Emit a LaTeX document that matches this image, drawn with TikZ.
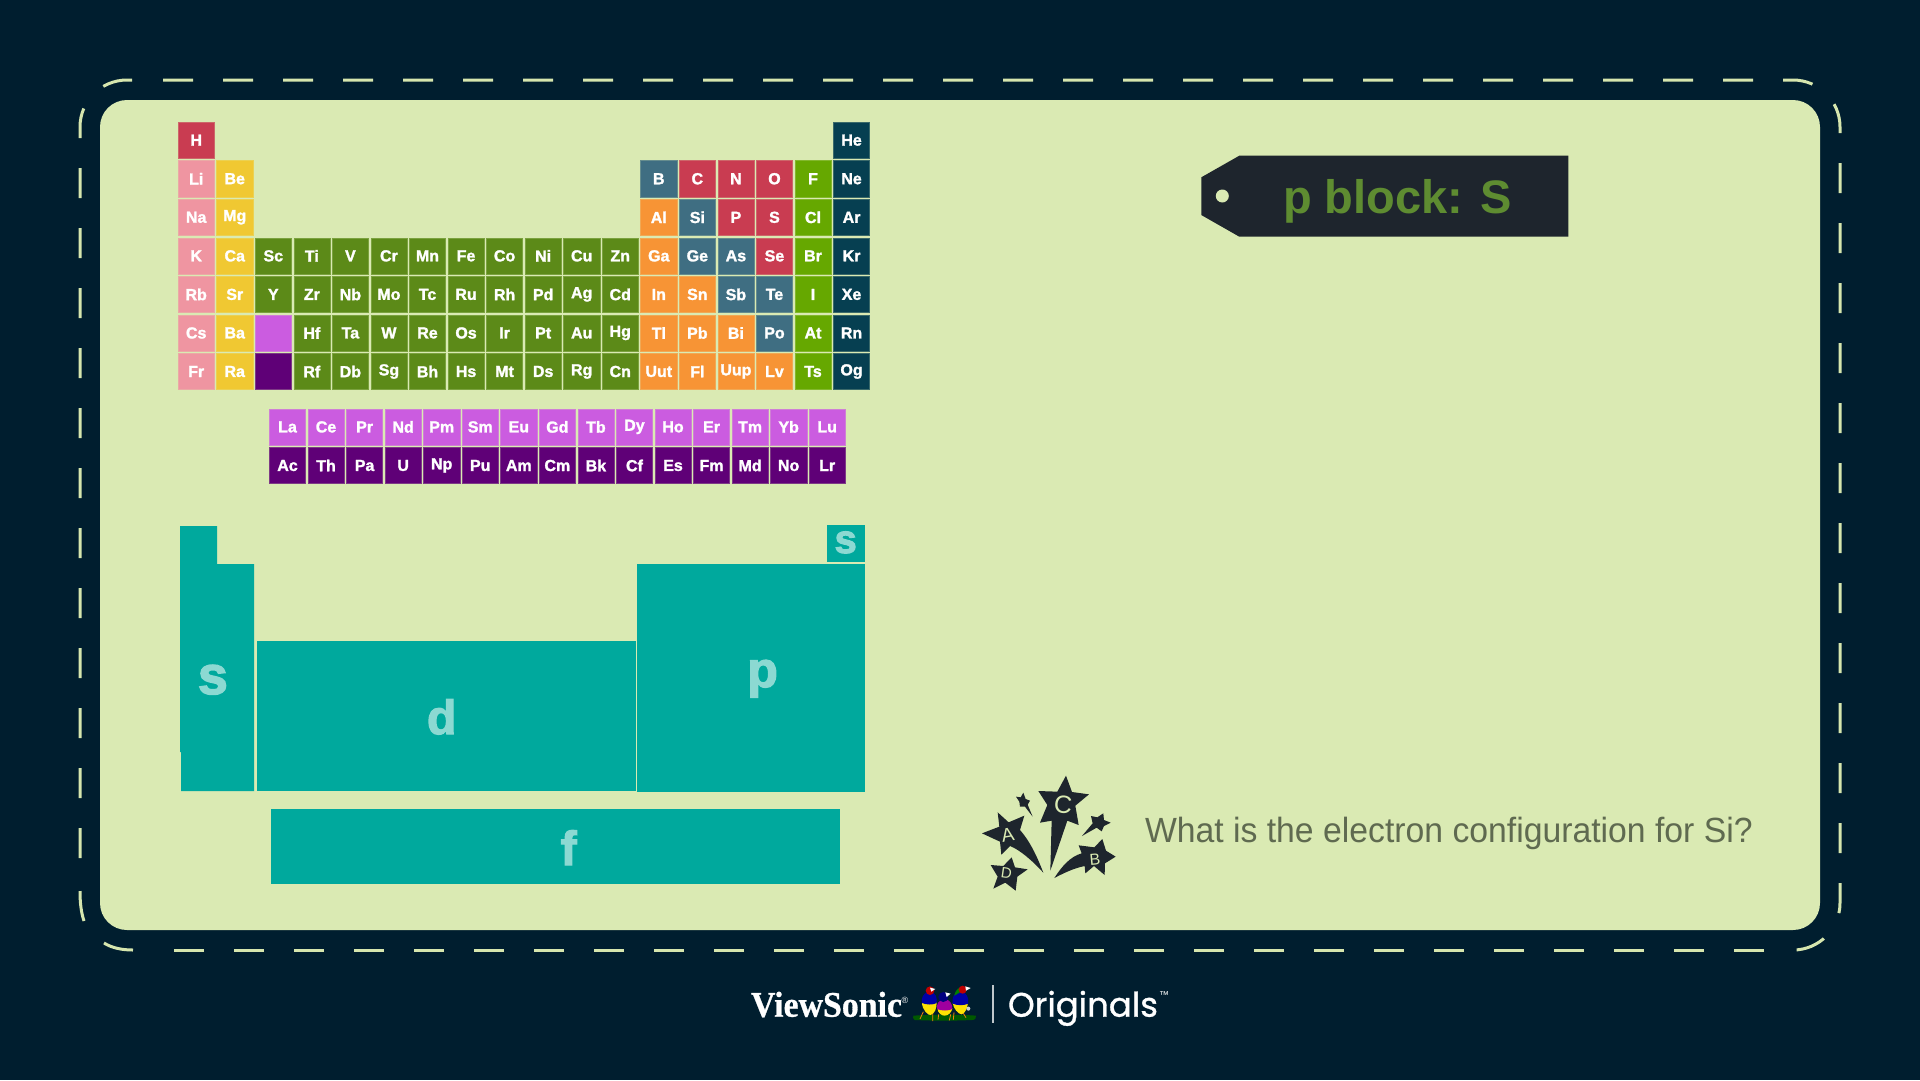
\documentclass[tikz,border=0pt]{standalone}
\usepackage{fontspec}
\setmainfont{Liberation Sans}
\newfontfamily\elfont{Liberation Sans}[BoldFeatures={FakeBold=1.6}]
\newfontfamily\blockfont{Liberation Sans}[BoldFeatures={FakeBold=2.6}]
\newfontfamily\serifface{Liberation Serif}[BoldFeatures={FakeBold=0.8}]
\newfontfamily\brandface{Poppins}[UprightFeatures={FakeBold=1.0}]
\definecolor{night}{HTML}{001E2F}
\definecolor{panel}{HTML}{DAEAB3}
\definecolor{dashc}{HTML}{D6E6AE}
\definecolor{nonmetal}{HTML}{C93C51}
\definecolor{alkali}{HTML}{EF95A1}
\definecolor{earth}{HTML}{F0C832}
\definecolor{trans}{HTML}{5C8A18}
\definecolor{lanth}{HTML}{CB5CE0}
\definecolor{actin}{HTML}{5F0077}
\definecolor{postm}{HTML}{F79435}
\definecolor{metall}{HTML}{3F6E82}
\definecolor{halo}{HTML}{66A800}
\definecolor{noble}{HTML}{063F51}
\definecolor{blocktl}{HTML}{00A99D}
\definecolor{blocktx}{HTML}{8CD9D2}
\definecolor{tagc}{HTML}{1E252D}
\definecolor{tagtx}{HTML}{5E8C31}
\definecolor{asktx}{HTML}{5F6A50}
\tikzset{
  every node/.style={inner sep=0pt,outer sep=0pt},
  elem/.style={minimum size=36.2pt,fill=#1,draw=#1!75!panel,line width=.5pt,text=white,
    font=\elfont\bfseries\fontsize{16}{16}\selectfont},
  blockshape/.style={fill=blocktl},
  blocklabel/.style={text=blocktx,anchor=base,font=\blockfont\bfseries\fontsize{#1}{#1}\selectfont},
  starshape/.style={fill=tagc,draw=none},
  starletter/.style={text=panel,font=\fontsize{#1}{#1}\selectfont},
  dashline/.style={dashc,line width=3pt,dash pattern=on 30pt off 30pt,rounded corners=47pt},
  dashpiece/.style={dashc,line width=3pt},
}
\begin{document}
\begin{tikzpicture}[x=1pt,y=-1pt]
\path[use as bounding box,fill=night] (0,0) rectangle (1920,1080);
% card and its dashed outline: one run per stretch so the corners stay symmetric
\fill[panel,rounded corners=27pt] (100,100) rectangle (1820,930);
\draw[dashline,dash phase=30pt] (133,80) -- (1840,80) -- (1840,950) -- (1793,950);
\draw[dashline] (1764,950) -- (174,950);
\draw[dashpiece] (133,950) .. controls (122,950) and (112,948) .. (104,943);
\draw[dashpiece] (84,921) .. controls (81,912) and (80,902) .. (80,891);
\draw[dashline] (80,858) -- (80,80) -- (133,80);

% main table: symbol / column / row / colour
\foreach \sym/\col/\row/\cc in {
  H/0/0/nonmetal,He/17/0/noble,
  Li/0/1/alkali,Be/1/1/earth,B/12/1/metall,C/13/1/nonmetal,N/14/1/nonmetal,O/15/1/nonmetal,F/16/1/halo,Ne/17/1/noble,
  Na/0/2/alkali,Mg/1/2/earth,Al/12/2/postm,Si/13/2/metall,P/14/2/nonmetal,S/15/2/nonmetal,Cl/16/2/halo,Ar/17/2/noble,
  K/0/3/alkali,Ca/1/3/earth,Sc/2/3/trans,Ti/3/3/trans,V/4/3/trans,Cr/5/3/trans,Mn/6/3/trans,Fe/7/3/trans,Co/8/3/trans,Ni/9/3/trans,Cu/10/3/trans,Zn/11/3/trans,Ga/12/3/postm,Ge/13/3/metall,As/14/3/metall,Se/15/3/nonmetal,Br/16/3/halo,Kr/17/3/noble,
  Rb/0/4/alkali,Sr/1/4/earth,Y/2/4/trans,Zr/3/4/trans,Nb/4/4/trans,Mo/5/4/trans,Tc/6/4/trans,Ru/7/4/trans,Rh/8/4/trans,Pd/9/4/trans,Ag/10/4/trans,Cd/11/4/trans,In/12/4/postm,Sn/13/4/postm,Sb/14/4/metall,Te/15/4/metall,I/16/4/halo,Xe/17/4/noble,
  Cs/0/5/alkali,Ba/1/5/earth,{}/2/5/lanth,Hf/3/5/trans,Ta/4/5/trans,W/5/5/trans,Re/6/5/trans,Os/7/5/trans,Ir/8/5/trans,Pt/9/5/trans,Au/10/5/trans,Hg/11/5/trans,Tl/12/5/postm,Pb/13/5/postm,Bi/14/5/postm,Po/15/5/metall,At/16/5/halo,Rn/17/5/noble,
  Fr/0/6/alkali,Ra/1/6/earth,{}/2/6/actin,Rf/3/6/trans,Db/4/6/trans,Sg/5/6/trans,Bh/6/6/trans,Hs/7/6/trans,Mt/8/6/trans,Ds/9/6/trans,Rg/10/6/trans,Cn/11/6/trans,Uut/12/6/postm,Fl/13/6/postm,Uup/14/6/postm,Lv/15/6/postm,Ts/16/6/halo,Og/17/6/noble}
  \node[elem=\cc] (cell-\col-\row) at ({196.2+\col*38.55},{140.2+\row*38.55}) {\sym};

% lanthanide and actinide rows
\foreach \sym [count=\i from 0] in {La,Ce,Pr,Nd,Pm,Sm,Eu,Gd,Tb,Dy,Ho,Er,Tm,Yb,Lu}
  \node[elem=lanth] (lan-\i) at ({287.5+\i*38.55},426.9) {\sym};
\foreach \sym [count=\i from 0] in {Ac,Th,Pa,U,Np,Pu,Am,Cm,Bk,Cf,Es,Fm,Md,No,Lr}
  \node[elem=actin] (act-\i) at ({287.5+\i*38.55},465.5) {\sym};

% block map
\path[blockshape] (180,526) -- (217,526) -- (217,564) -- (254,564) -- (254,791)
  -- (181,791) -- (181,752) -- (180,752) -- cycle;
\path[blockshape] (256.7,641) rectangle (635.5,791);
\path[blockshape] (637.2,564) rectangle (864.6,791.7);
\path[blockshape] (826.8,524.5) rectangle (864.6,561.7);
\path[blockshape] (270.9,809.3) rectangle (839.6,884.3);
\node[blocklabel=54] (sleft) at (212.9,694) {s};
\node[blocklabel=48] (dlab) at (441.7,734) {d};
\node[blocklabel=50] (plab) at (762.6,687) {p};
\node[blocklabel=48] (flab) at (568.7,865) {f};
\node[blocklabel=40] (sright) at (845.7,553) {s};

% luggage tag heading
\fill[tagc] (1201.3,177.3) -- (1239.3,155.7) -- (1568.3,155.7) -- (1568.3,236.7)
  -- (1239.3,236.7) -- (1201.3,215) -- cycle;
\fill[panel] (1222.3,196) circle[radius=6.5];
\node[text=tagtx,anchor=base,font=\bfseries\fontsize{47}{47}\selectfont] (title) at (1397.5,213.5) {p block: S};

% question line
\node[text=asktx,anchor=base west,font=\fontsize{35}{35}\selectfont] (ask) at (1145,842.5)
  {\scalebox{.964}[1]{What is the electron configuration for Si?}};

% burst of stars
\begin{scope}[shift={(960,760)},x=.3333pt,y=-.3333pt]
  \fill[starshape] (318,47) -- (336,96) -- (387,103) -- (346,137) -- (356,195) -- (322,182) -- (271,332)
    -- (275,182) -- (240,188) -- (262,135) -- (235,93) -- (292,95) -- cycle;
  \fill[starshape] (113,157) -- (146,187) -- (193,167) -- (180,210)
    .. controls (215,250) and (235,300) .. (250,338)
    .. controls (215,300) and (180,270) .. (150,258)
    -- (124,284) -- (120,245) -- (66,220) -- (118,200) -- cycle;
  \fill[starshape] (427,237) -- (438,272) -- (467,290) -- (435,310) -- (434,345) -- (402,318) -- (376,340) -- (374,318)
    .. controls (340,325) and (310,340) .. (283,354)
    .. controls (305,320) and (330,290) .. (365,280)
    -- (356,256) -- (403,262) -- cycle;
  \fill[starshape] (155,292) -- (165,322) -- (203,328) -- (172,350) -- (167,392) -- (136,368) -- (100,386)
    -- (113,350) -- (92,315) -- (130,318) -- cycle;
  \fill[starshape] (190,98) -- (197,117) -- (210,122) -- (203,134) -- (218,170) -- (195,140) -- (180,140)
    -- (178,125) -- (168,110) -- (182,112) -- cycle;
  \fill[starshape] (430,160) -- (432,180) -- (452,188) -- (432,198) -- (425,214) -- (410,203) -- (366,228)
    -- (398,190) -- (393,168) -- (412,172) -- cycle;
  \node[starletter=25,rotate=-5] (letterC) at (309,135) {C};
  \node[starletter=19,rotate=10] (letterA) at (143,225) {A};
  \node[starletter=16,rotate=5] (letterB) at (405,298) {B};
  \node[starletter=15,rotate=-8] (letterD) at (139,338) {D};
\end{scope}

% brand line
\node[anchor=base west,text=white,font=\serifface\bfseries\fontsize{36}{36}\selectfont] (brand) at (751,1016.7)
  {\scalebox{.94}[1]{ViewSonic}};
\node[text=white,font=\fontsize{9}{9}\selectfont] (regmark) at (905,1000) {®};
\draw[white!75!night,line width=1.6pt] (993,985) -- (993,1023);
\node[anchor=base west,text=white,font=\brandface\fontsize{34}{34}\selectfont] (orig) at (1008,1016.7) {Originals};
\node[text=white,font=\fontsize{10}{10}\selectfont] (tmmark) at (1164,995) {™};

% three finches on a branch
\begin{scope}[shift={(910,975)},x=.3333pt,y=-.3333pt]
  \fill[green!35!black] (10,122) .. controls (70,118) and (150,118) .. (198,122)
    .. controls (200,130) and (195,135) .. (185,135) .. controls (120,138) and (60,137) .. (14,135)
    .. controls (9,132) and (8,126) .. (10,122) -- cycle;
  \draw[orange!80!brown,line width=.8pt] (40,110) -- (30,132) (68,115) -- (68,138) (86,118) -- (84,134)
    (122,118) -- (118,136) (132,112) -- (130,134) (160,115) -- (168,128);
  % left bird
  \fill[yellow!85!orange] (36,82) .. controls (36,105) and (55,122) .. (62,120) .. controls (75,115) and (80,100) .. (80,82) -- cycle;
  \fill[blue!65!black] (60,50) .. controls (35,52) and (34,75) .. (36,84) .. controls (50,90) and (70,90) .. (80,84) .. controls (82,70) and (78,52) .. (60,50) -- cycle;
  \fill[red!75!black] (60,47) circle[radius=4.3pt];
  \fill[white] (60,38) -- (76,42) -- (64,50) -- cycle;
  % middle bird
  \fill[yellow!85!orange] (82,100) .. controls (84,115) and (95,122) .. (104,122) .. controls (115,122) and (125,112) .. (127,100) -- cycle;
  \fill[violet!75!magenta] (104,72) .. controls (85,74) and (79,88) .. (81,102) .. controls (95,108) and (115,108) .. (127,102) .. controls (128,88) and (120,74) .. (104,72) -- cycle;
  \fill[blue!50!black] (100,66) circle[radius=5pt];
  \fill[white] (106,52) -- (122,56) -- (110,66) -- cycle;
  % right bird
  \fill[yellow!85!orange] (128,84) .. controls (130,100) and (145,118) .. (155,118) .. controls (165,115) and (172,100) .. (174,84) -- cycle;
  \fill[blue!65!black] (150,48) .. controls (130,50) and (126,72) .. (128,86) .. controls (142,92) and (162,92) .. (174,86) .. controls (178,70) and (170,50) .. (150,48) -- cycle;
  \fill[green!50!black] (133,62) .. controls (135,50) and (142,40) .. (150,38) -- (150,52) -- cycle;
  \fill[red!75!black] (158,44) circle[radius=4pt];
  \fill[white] (166,34) -- (182,39) -- (168,47) -- cycle;
  \fill[white!80!night] (175,101) circle[radius=2pt];
\end{scope}
\end{tikzpicture}
\end{document}
